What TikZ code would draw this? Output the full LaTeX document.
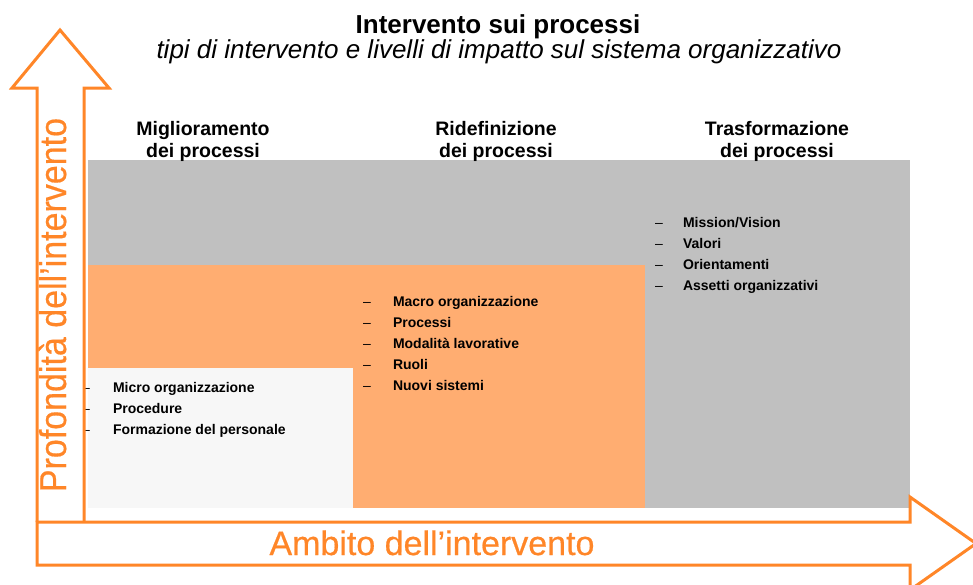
\documentclass[tikz,border=0pt]{standalone}
\usepackage{fontspec}
\setmainfont{Liberation Sans}
\newfontfamily\axisfont[FakeBold=0.5]{Liberation Sans}
\definecolor{arrowor}{RGB}{255,134,40}
\definecolor{fillor}{RGB}{255,173,113}
\definecolor{fillgray}{RGB}{192,192,192}
\definecolor{filllight}{RGB}{247,247,247}
\tikzset{
  txt/.style={inner sep=0pt, outer sep=0pt},
  item/.style={txt, anchor=base west, font=\fontsize{14}{17}\selectfont\bfseries},
  dashmark/.style={txt, anchor=base west, font=\fontsize{14}{17}\selectfont},
  head/.style={txt, anchor=base, font=\fontsize{19.5}{23}\selectfont\bfseries},
  bigarrow/.style={draw=arrowor, line width=3pt, line join=miter, fill=white},
  axislabel/.style={txt, anchor=base, text=arrowor, font=\axisfont\fontsize{34}{40}\selectfont}
}
\begin{document}
\begin{tikzpicture}[x=1pt,y=-1pt]
\useasboundingbox (0,0) rectangle (973,584);
% areas
\fill[fillgray] (88,160) rectangle (910,508);
\fill[fillor] (88,265) rectangle (645,508);
\fill[filllight] (88,368) rectangle (353,508);
% titles
\node[txt, anchor=base, font=\fontsize{26}{30}\selectfont\bfseries] (title) at (498,33) {Intervento sui processi};
\node[txt, anchor=base, font=\fontsize{26}{30}\selectfont\itshape] (subtitle) at (499,58) {tipi di intervento e livelli di impatto sul sistema organizzativo};
% headers
\node[head] (h1a) at (203,135) {Miglioramento};
\node[head] (h1b) at (203,157) {dei processi};
\node[head] (h2a) at (496,135) {Ridefinizione};
\node[head] (h2b) at (496,157) {dei processi};
\node[head] (h3a) at (777,135) {Trasformazione};
\node[head] (h3b) at (777,157) {dei processi};
% column 1
\node[dashmark] (d11) at (82,392) {–};
\node[dashmark] (d12) at (82,413) {–};
\node[dashmark] (d13) at (82,434) {–};
\node[item] (i11) at (113,392) {Micro organizzazione};
\node[item] (i12) at (113,413) {Procedure};
\node[item] (i13) at (113,434) {Formazione del personale};
% column 2
\node[dashmark] (d21) at (363,306) {–};
\node[dashmark] (d22) at (363,327) {–};
\node[dashmark] (d23) at (363,348) {–};
\node[dashmark] (d24) at (363,369) {–};
\node[dashmark] (d25) at (363,390) {–};
\node[item] (i21) at (393,306) {Macro organizzazione};
\node[item] (i22) at (393,327) {Processi};
\node[item] (i23) at (393,348) {Modalità lavorative};
\node[item] (i24) at (393,369) {Ruoli};
\node[item] (i25) at (393,390) {Nuovi sistemi};
% column 3
\node[dashmark] (d31) at (655,227) {–};
\node[dashmark] (d32) at (655,248) {–};
\node[dashmark] (d33) at (655,269) {–};
\node[dashmark] (d34) at (655,290) {–};
\node[item] (i31) at (683,227) {Mission/Vision};
\node[item] (i32) at (683,248) {Valori};
\node[item] (i33) at (683,269) {Orientamenti};
\node[item] (i34) at (683,290) {Assetti organizzativi};
% arrows
\draw[bigarrow] (37,522) -- (37,88) -- (12,88) -- (60,30) -- (109,88) -- (84,88) -- (84,522);
\draw[bigarrow] (37,522) -- (910,522) -- (910,497) -- (976,543.5) -- (910,590) -- (910,565) -- (37,565) -- cycle;
\node[axislabel, rotate=90] (vlabel) at (66,305) {\scalebox{1}[1.1]{Profondità dell’intervento}};
\node[axislabel] (hlabel) at (432,555) {Ambito dell’intervento};
\end{tikzpicture}
\end{document}
